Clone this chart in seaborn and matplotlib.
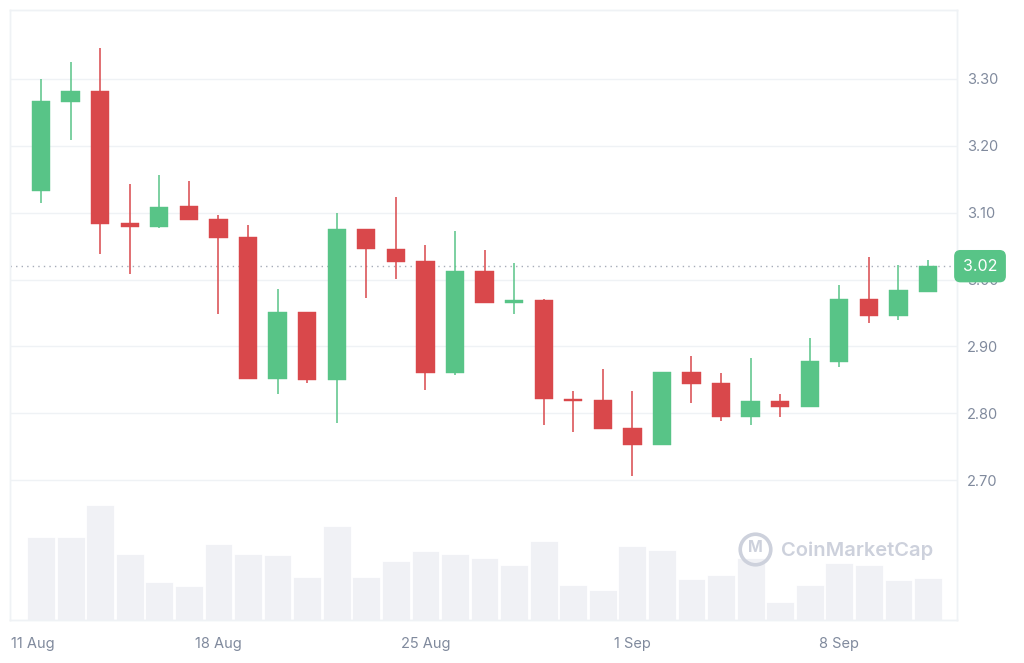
import matplotlib
matplotlib.use("Agg")
import matplotlib.pyplot as plt
import matplotlib.transforms as mtransforms
import numpy as np
import pandas as pd
import seaborn as sns

# ---- data ----
open_ = [3.133, 3.266, 3.282, 3.084, 3.078, 3.110, 3.090, 3.063, 2.852, 2.952,
         2.850, 3.076, 3.046, 3.027, 2.860, 3.013, 2.965, 2.969, 2.822, 2.820,
         2.778, 2.753, 2.862, 2.845, 2.795, 2.818, 2.810, 2.877, 2.971, 2.946, 2.982]
high = [3.300, 3.325, 3.346, 3.143, 3.157, 3.147, 3.097, 3.082, 2.986, 2.952,
        3.099, 3.076, 3.124, 3.051, 3.073, 3.044, 3.025, 2.971, 2.834, 2.866,
        2.834, 2.862, 2.885, 2.860, 2.883, 2.829, 2.912, 2.992, 3.033, 3.022, 3.029]
low = [3.114, 3.209, 3.038, 3.009, 3.077, 3.089, 2.949, 2.852, 2.829, 2.846,
       2.785, 2.972, 3.001, 2.835, 2.858, 2.965, 2.948, 2.783, 2.772, 2.776,
       2.707, 2.752, 2.816, 2.789, 2.783, 2.795, 2.810, 2.869, 2.935, 2.939, 2.982]
close = [3.267, 3.282, 3.083, 3.079, 3.109, 3.089, 3.062, 2.852, 2.952, 2.850,
         3.076, 3.045, 3.026, 2.860, 3.013, 2.965, 2.969, 2.821, 2.818, 2.776,
         2.753, 2.862, 2.844, 2.795, 2.818, 2.810, 2.878, 2.971, 2.946, 2.984, 3.021]
volume = [82.7, 82.7, 115.0, 66.0, 38.0, 34.0, 76.0, 66.0, 64.7, 43.3,
          94.0, 43.3, 58.7, 68.7, 66.3, 62.0, 55.0, 78.7, 35.0, 29.7,
          74.3, 70.0, 40.7, 44.7, 62.0, 18.3, 35.3, 57.3, 54.7, 39.7, 42.0]
date_ticks = [-1, 6, 13, 20, 27]
date_labels = ["11 Aug", "18 Aug", "25 Aug", "1 Sep", "8 Sep"]
price_ticks = [2.70, 2.80, 2.90, 3.00, 3.10, 3.20, 3.30]
last_price = 3.02

GREEN = "#58c487"
RED = "#d9484b"
VOL = "#f0f1f5"
GRID = "#eff2f5"
TXT = "#808a9d"
WM = "#cdd1dc"

sns.set_theme(style="white")
plt.rcParams["font.family"] = ["Inter", "DejaVu Sans"]

df = pd.DataFrame({"i": np.arange(len(open_)), "o": open_, "h": high,
                   "l": low, "c": close, "v": volume})

fig = plt.figure(figsize=(10.24, 6.63), dpi=100)
ax = fig.add_axes([10 / 1024, 43 / 663, 947 / 1024, 610 / 663])

# volume bars (background)
sns.barplot(data=df, x="i", y="v", ax=ax, color=VOL, saturation=1,
            width=0.94, edgecolor="white", linewidth=0.6, zorder=1)
ax.set_ylim(0, 610)
ax.set_xlim(-1.05, 30.98)
ax.set_yticks([])
ax.set_xlabel("")
ax.set_ylabel("")

# price axis
axp = ax.twinx()
axp.set_ylim(2.491, 3.403)
axp.set_xlim(-1.05, 30.98)

for _, r in df.iterrows():
    col = GREEN if r.c >= r.o else RED
    axp.vlines(r.i, r.l, r.h, color=col, lw=1.1, zorder=3)
    bot = min(r.o, r.c)
    hgt = max(abs(r.c - r.o), 0.003)
    axp.bar(r.i, hgt, bottom=bot, width=0.62, color=col, edgecolor=col,
            linewidth=0.3, zorder=4)

axp.set_yticks(price_ticks)
axp.set_yticklabels([f"{t:.2f}" for t in price_ticks])
axp.yaxis.tick_right()
axp.tick_params(axis="y", length=0, pad=7, labelsize=10.5, labelcolor=TXT)
axp.grid(axis="y", color=GRID, lw=1, zorder=0)
axp.set_axisbelow(True)

ax.set_xticks(date_ticks)
ax.set_xticklabels(date_labels)
ax.tick_params(axis="x", length=0, pad=12, labelsize=10.5, labelcolor=TXT)
ax.get_xticklabels()[0].set_horizontalalignment("left")

for a in (ax, axp):
    for s in a.spines.values():
        s.set_color(GRID)
        s.set_linewidth(1)

# last price line and label
axp.axhline(last_price, color="#a6acb8", lw=1, ls=(0, (1, 3)), zorder=2)
trans = mtransforms.blended_transform_factory(axp.transAxes, axp.transData)
axp.text(1.0243, last_price, f"{last_price:.2f}", transform=trans,
         ha="center", va="center", color="white", fontsize=11.5, zorder=10,
         clip_on=False,
         bbox=dict(boxstyle="round,pad=0.5,rounding_size=0.35", fc=GREEN,
                   ec=GREEN))

# watermark
fig.text(781 / 1024, 1 - 551 / 663, "CoinMarketCap", color=WM,
         fontsize=14.5, fontweight="semibold", ha="left", va="center")
axp.plot([755 / 1024], [1 - 549 / 663], marker="o", ms=22, mfc="none",
         mec=WM, mew=2.6, transform=fig.transFigure, clip_on=False)
fig.text(755 / 1024, 1 - 548 / 663, "M", color=WM, fontsize=11.5,
         fontweight="bold", ha="center", va="center")

fig.savefig("out.png", dpi=100, facecolor="white")
